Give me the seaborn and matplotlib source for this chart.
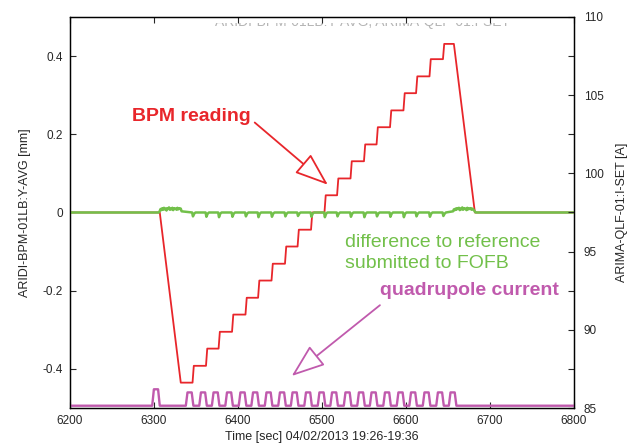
import numpy as np
import pandas as pd
import matplotlib
matplotlib.use("Agg")
import matplotlib.pyplot as plt
from matplotlib.transforms import Bbox, TransformedBbox
import seaborn as sns

# --- data ---
# rise time [s] of each quadrupole current pulse
pulse_t = [6338, 6354, 6369, 6385, 6401, 6416, 6432, 6448, 6463, 6479, 6495,
           6510, 6526, 6542, 6557, 6573, 6589, 6604, 6620, 6636, 6651]
first_pulse_t = 6298
quad_base = 85.15
quad_high = 86.0
quad_first_high = 86.2

# BPM staircase levels [mm]
bpm_levels = [-0.435, -0.392, -0.348, -0.305, -0.261, -0.218, -0.174, -0.131,
              -0.087, -0.044, 0.000, 0.044, 0.087, 0.131, 0.174, 0.218,
              0.261, 0.305, 0.348, 0.392, 0.431]
bpm_ramp = [6307, 6332]      # drop from 0 to first level
bpm_return = [6657, 6682]    # back from top level to 0

# FOFB difference: noisy bumps and small dips at every step
noise1_t0 = 6307
noise1 = [0.004, 0.009, 0.006, 0.011, 0.007, 0.012, 0.008, 0.010, 0.005, 0.011,
          0.009, 0.013, 0.007, 0.010, 0.008, 0.012, 0.006, 0.011, 0.009, 0.010,
          0.007, 0.012, 0.008, 0.011, 0.009, 0.010, 0.003]
noise2_t0 = 6656
noise2 = [0.003, 0.008, 0.006, 0.010, 0.007, 0.011, 0.009, 0.012, 0.006, 0.010,
          0.008, 0.013, 0.007, 0.011, 0.009, 0.010, 0.006, 0.012, 0.008, 0.010,
          0.009, 0.011, 0.007, 0.010, 0.008, 0.006, 0.002]
dip_depth = [-0.010, -0.011, -0.012, -0.011, -0.010, -0.012, -0.011, -0.010,
             -0.009, -0.011, -0.012, -0.010, -0.011, -0.012, -0.010, -0.011,
             -0.012, -0.010, -0.011, -0.009]

red = "#e8262b"
green = "#72c04a"
purple = "#c05aad"

# build the traces
q_t = [6200, first_pulse_t, first_pulse_t + 2, first_pulse_t + 7, first_pulse_t + 9]
q_v = [quad_base, quad_base, quad_first_high, quad_first_high, quad_base]
for t in pulse_t:
    q_t += [t, t + 2, t + 7, t + 9]
    q_v += [quad_base, quad_high, quad_high, quad_base]
q_t.append(6800)
q_v.append(quad_base)
quad = pd.DataFrame({"t": q_t, "I": q_v})

b_t = [6200, bpm_ramp[0], bpm_ramp[1]]
b_v = [0, 0, bpm_levels[0]]
for k in range(1, len(bpm_levels)):
    s = pulse_t[k - 1] + 8
    b_t += [s, s + 1.5]
    b_v += [bpm_levels[k - 1], bpm_levels[k]]
b_t += [bpm_return[0], bpm_return[1], 6800]
b_v += [bpm_levels[-1], 0, 0]
bpm = pd.DataFrame({"t": b_t, "y": b_v})

g_t = [6200, noise1_t0 - 1]
g_v = [0, 0]
for i, v in enumerate(noise1):
    g_t.append(noise1_t0 + i)
    g_v.append(v)
for k, d in enumerate(dip_depth):
    s = pulse_t[k] + 8
    g_t += [s - 0.5, s + 0.5, s + 2, s + 3.5]
    g_v += [0, d, -0.003, 0]
for i, v in enumerate(noise2):
    g_t.append(noise2_t0 + i)
    g_v.append(v)
g_t += [noise2_t0 + len(noise2), 6800]
g_v += [0, 0]
diff = pd.DataFrame({"t": g_t, "y": g_v})

# --- plot ---
sns.set_style("ticks")
plt.rcParams["font.family"] = ["Liberation Sans", "DejaVu Sans"]

fig = plt.figure(figsize=(6.35, 4.45), dpi=100)
ax = fig.add_axes([0.110, 0.083, 0.794, 0.879])
ax2 = ax.twinx()

sns.lineplot(data=bpm, x="t", y="y", ax=ax, color=red, lw=1.3,
             estimator=None, sort=False, zorder=2)
sns.lineplot(data=diff, x="t", y="y", ax=ax, color=green, lw=1.8,
             estimator=None, sort=False, zorder=3)
sns.lineplot(data=quad, x="t", y="I", ax=ax2, color=purple, lw=1.7,
             estimator=None, sort=False)

ax.set_xlim(6200, 6800)
ax.set_ylim(-0.5, 0.5)
ax2.set_ylim(85, 110)
ax.set_xticks(np.arange(6200, 6801, 100))
ax.set_yticks([-0.4, -0.2, 0, 0.2, 0.4])
ax.set_yticklabels(["-0.4", "-0.2", "0", "0.2", "0.4"])
ax2.set_yticks(np.arange(85, 110.1, 2.5))
ax2.set_yticklabels([str(int(v)) if v % 5 == 0 else "" for v in np.arange(85, 110.1, 2.5)])

ax.tick_params(axis="both", direction="in", length=4.5, width=0.8,
               labelsize=8.5, pad=5, top=True, right=False)
ax2.tick_params(axis="y", direction="in", length=4.5, width=0.8,
                labelsize=8.5, pad=7)
for a in (ax, ax2):
    for sp in a.spines.values():
        sp.set_visible(True)
        sp.set_linewidth(0.9)
        sp.set_color("black")

ax.set_xlabel("Time [sec] 04/02/2013 19:26-19:36", fontsize=9, labelpad=3)
ax.set_ylabel("ARIDI-BPM-01LB:Y-AVG [mm]", fontsize=9, labelpad=8)
ax2.set_ylabel("ARIMA-QLF-01:I-SET [A]", fontsize=9, labelpad=9)

# faint title, only its lower edge shows inside the frame
title = ax.text(0.581, 0.977, "ARIDI-BPM-01LB:Y-AVG, ARIMA-QLF-01:I-SET",
                transform=ax.transAxes, ha="center", va="baseline", fontsize=10,
                color="#b5b5b5", zorder=0)
title.set_clip_box(TransformedBbox(Bbox([[0, 0], [1, 0.984]]), ax.transAxes))
title.set_clip_on(True)

# annotations
arrow_style = "-|>,head_length=1.0,head_width=0.37"
ax.text(6345, 0.245, "BPM reading", color=red, fontsize=14, fontweight="bold",
        ha="center", va="center")
ax.annotate("", xy=(6507, 0.071), xytext=(6420, 0.230),
            arrowprops=dict(arrowstyle=arrow_style, fc="white", ec=red, lw=1.3,
                            mutation_scale=21, shrinkA=0, shrinkB=0))
ax.text(6527, -0.103, "difference to reference\nsubmitted to FOFB", color=green,
        fontsize=14, ha="left", va="center", linespacing=1.3)
ax.text(6676, -0.199, "quadrupole current", color=purple, fontsize=14,
        fontweight="bold", ha="center", va="center")
ax.annotate("", xy=(6464, -0.418), xytext=(6569, -0.237),
            arrowprops=dict(arrowstyle=arrow_style, fc="white", ec=purple, lw=1.3,
                            mutation_scale=21, shrinkA=0, shrinkB=0))

fig.savefig("out.png", dpi=100)
